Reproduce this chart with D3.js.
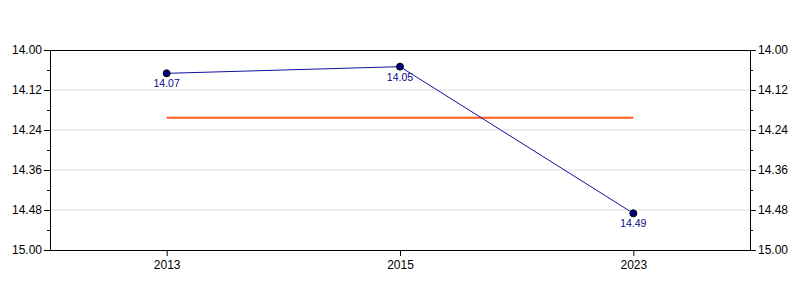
<!DOCTYPE html>
<html>
<head>
<meta charset="utf-8">
<script src="https://cdn.jsdelivr.net/npm/d3@7"></script>
<style>
  body { margin: 0; background: #fff; }
  text { font-family: "Liberation Sans", Arial, sans-serif; }
</style>
</head>
<body>
<div id="chart"></div>
<script>
// données
const years = ["2013", "2015", "2023"];
const values = [14.07, 14.05, 14.49];
const average = [14.203];
const yTicks = [14.00, 14.12, 14.24, 14.36, 14.48, 14.60];
const yTickLabels = ["14.00", "14.12", "14.24", "14.36", "14.48", "15.00"];

const width = 800, height = 300;
const margin = {top: 50, right: 50, bottom: 50, left: 50};

const svg = d3.select("#chart").append("svg")
    .attr("width", width)
    .attr("height", height);

const x = d3.scalePoint()
    .domain(years)
    .range([margin.left, width - margin.right])
    .padding(0.5);

const y = d3.scaleLinear()
    .domain([14.00, 14.60])
    .range([margin.top, height - margin.bottom]);

// minor ticks halfway between major ones
const minorTicks = d3.range(yTicks.length - 1).map(i => (yTicks[i] + yTicks[i + 1]) / 2);

// grille
svg.append("g")
    .selectAll("line")
    .data(yTicks.slice(1, -1))
    .join("line")
    .attr("x1", margin.left)
    .attr("x2", width - margin.right)
    .attr("y1", d => y(d))
    .attr("y2", d => y(d))
    .style("stroke", "#dcdcdc")
    .style("stroke-width", 1);

// cadre haut
svg.append("line")
    .attr("x1", margin.left).attr("x2", width - margin.right)
    .attr("y1", margin.top + 0.5).attr("y2", margin.top + 0.5)
    .style("stroke", "#000");

const fmt = d => yTickLabels[yTicks.indexOf(d)];

function styleAxis(g) {
    g.selectAll("text")
        .style("font-size", "12px")
        .style("fill", "#000");
    g.selectAll("path, line").style("stroke", "#000");
}

// axe gauche
svg.append("g")
    .attr("transform", "translate(" + margin.left + ",0)")
    .call(d3.axisLeft(y).tickValues(yTicks).tickFormat(fmt).tickSizeInner(6).tickSizeOuter(0).tickPadding(2))
    .call(styleAxis);
svg.append("g")
    .attr("transform", "translate(" + margin.left + ",0)")
    .call(d3.axisLeft(y).tickValues(minorTicks).tickFormat("").tickSizeInner(3).tickSizeOuter(0))
    .call(g => g.select(".domain").remove())
    .call(styleAxis);

// axe droit
svg.append("g")
    .attr("transform", "translate(" + (width - margin.right) + ",0)")
    .call(d3.axisRight(y).tickValues(yTicks).tickFormat(fmt).tickSizeInner(6).tickSizeOuter(0).tickPadding(2))
    .call(styleAxis);
svg.append("g")
    .attr("transform", "translate(" + (width - margin.right) + ",0)")
    .call(d3.axisRight(y).tickValues(minorTicks).tickFormat("").tickSizeInner(3).tickSizeOuter(0))
    .call(g => g.select(".domain").remove())
    .call(styleAxis);

// axe bas
svg.append("g")
    .attr("transform", "translate(0," + (height - margin.bottom) + ")")
    .call(d3.axisBottom(x).tickSizeInner(6).tickSizeOuter(0).tickPadding(4))
    .call(styleAxis);

// ligne moyenne
svg.append("line")
    .attr("x1", x(years[0]))
    .attr("x2", x(years[years.length - 1]))
    .attr("y1", y(average[0]))
    .attr("y2", y(average[0]))
    .style("stroke", "#ff5a14")
    .style("stroke-width", 2);

// série
const data = years.map((yr, i) => ({year: yr, value: values[i]}));

svg.append("path")
    .datum(data)
    .attr("d", d3.line().x(d => x(d.year)).y(d => y(d.value)))
    .style("fill", "none")
    .style("stroke", "#1010a0")
    .style("stroke-width", 1);

svg.append("g")
    .selectAll("circle")
    .data(data)
    .join("circle")
    .attr("cx", d => x(d.year))
    .attr("cy", d => y(d.value))
    .attr("r", 3.5)
    .style("fill", "#000080")
    .style("stroke", "#000")
    .style("stroke-width", 1);

svg.append("g")
    .selectAll("text")
    .data(data)
    .join("text")
    .attr("x", d => x(d.year))
    .attr("y", d => y(d.value) + 14)
    .attr("text-anchor", "middle")
    .style("font-size", "10.5px")
    .style("fill", "#0a0a8c")
    .text(d => d.value.toFixed(2));
</script>
</body>
</html>
